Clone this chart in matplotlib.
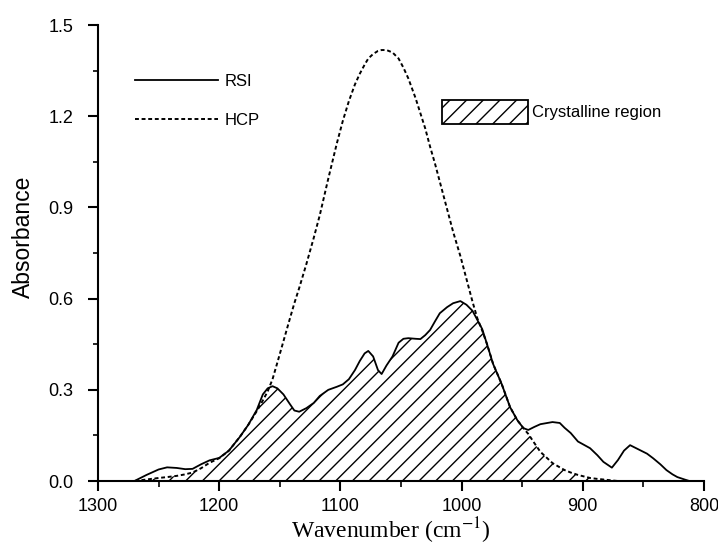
import matplotlib
matplotlib.use("Agg")
import matplotlib.pyplot as plt
from matplotlib.patches import Patch
from matplotlib.lines import Line2D
from matplotlib.ticker import MultipleLocator, FormatStrFormatter
import numpy as np

# values, on one shared wavenumber grid
wavenumber = [1275, 1270, 1260, 1250, 1243, 1235, 1228, 1222, 1215, 1208,
              1200, 1192, 1183, 1176, 1169, 1164, 1160, 1156, 1152, 1147,
              1142, 1138, 1134, 1128, 1122, 1117, 1110, 1103, 1098, 1093,
              1088, 1084, 1080, 1077, 1073, 1069, 1066, 1062, 1057, 1052,
              1048, 1044, 1038, 1034, 1030, 1026, 1022, 1018, 1012, 1007,
              1001, 996, 991, 987, 983, 979, 974, 967, 960, 954,
              949, 945, 940, 935, 925, 919, 915, 910, 904, 894,
              888, 883, 876, 871, 866, 861, 857, 853, 847, 842,
              836, 831, 826, 822, 816, 812]

rsi = [0.0, 0.0, 0.02, 0.038, 0.045, 0.043, 0.039, 0.04, 0.055, 0.068,
       0.076, 0.1, 0.145, 0.185, 0.234, 0.285, 0.305, 0.312, 0.305, 0.285,
       0.255, 0.232, 0.228, 0.24, 0.257, 0.28, 0.30, 0.31, 0.318, 0.335,
       0.365, 0.395, 0.42, 0.428, 0.41, 0.365, 0.352, 0.38, 0.41, 0.455,
       0.468, 0.47, 0.468, 0.467, 0.48, 0.497, 0.525, 0.552, 0.572, 0.585,
       0.592, 0.58, 0.56, 0.53, 0.50, 0.45, 0.385, 0.32, 0.243, 0.20,
       0.174, 0.168, 0.178, 0.187, 0.194, 0.191, 0.175, 0.158, 0.13, 0.108,
       0.085, 0.063, 0.044, 0.069, 0.10, 0.118, 0.11, 0.102, 0.09, 0.075,
       0.055, 0.036, 0.022, 0.013, 0.005, 0.0]

hcp = [0.0, 0.0, 0.005, 0.01, 0.013, 0.017, 0.022, 0.028, 0.042, 0.06,
       0.075, 0.1, 0.145, 0.185, 0.23, 0.265, 0.295, 0.335, 0.39, 0.46,
       0.53, 0.585, 0.635, 0.715, 0.80, 0.875, 0.995, 1.11, 1.185, 1.25,
       1.305, 1.34, 1.37, 1.39, 1.405, 1.415, 1.418, 1.418, 1.41, 1.39,
       1.36, 1.325, 1.26, 1.21, 1.16, 1.10, 1.045, 0.985, 0.895, 0.82,
       0.74, 0.665, 0.59, 0.535, 0.495, 0.45, 0.385, 0.32, 0.243, 0.20,
       0.174, 0.155, 0.125, 0.096, 0.059, 0.045, 0.036, 0.028, 0.02, 0.01,
       0.007, 0.005, 0.002, 0.0, 0.0, 0.0, 0.0, 0.0, 0.0, 0.0,
       0.0, 0.0, 0.0, 0.0, 0.0, 0.0]

plt.rcParams['font.family'] = ['Liberation Sans', 'DejaVu Sans']
plt.rcParams['mathtext.fontset'] = 'stix'
plt.rcParams['hatch.linewidth'] = 1.0

fig = plt.figure(figsize=(7.18, 5.46), dpi=100)
ax = fig.add_axes([0.1365, 0.119, 0.844, 0.835])

# crystalline region = area under the lower of the two curves
crystal = np.minimum(rsi, hcp)
ax.fill_between(wavenumber, 0, crystal, facecolor='none', edgecolor='black',
                hatch='//', linewidth=0)
ax.plot(wavenumber, rsi, color='black', lw=1.3)
ax.plot(wavenumber, hcp, color='black', lw=1.4, linestyle=(0, (2, 1.4)))

ax.set_xlim(1300, 800)
ax.set_ylim(0, 1.5)
ax.xaxis.set_major_locator(MultipleLocator(100))
ax.xaxis.set_minor_locator(MultipleLocator(50))
ax.yaxis.set_major_locator(MultipleLocator(0.3))
ax.yaxis.set_minor_locator(MultipleLocator(0.15))
ax.yaxis.set_major_formatter(FormatStrFormatter('%.1f'))

for side in ['top', 'right']:
    ax.spines[side].set_visible(False)
for side in ['left', 'bottom']:
    ax.spines[side].set_linewidth(1.5)

ax.tick_params(axis='x', which='major', direction='out', length=7, width=1.5,
               labelsize=13, pad=5)
ax.tick_params(axis='x', which='minor', direction='out', length=4, width=1.2)
ax.tick_params(axis='y', which='major', direction='out', length=7, width=1.5,
               labelsize=13, pad=11)
ax.tick_params(axis='y', which='minor', direction='out', length=3.5, width=1.2)

ax.set_xlabel('Wavenumber (cm$^{-1}$)', family='Liberation Serif', fontsize=17)
ax.xaxis.set_label_coords(0.484, -0.075)
ax.set_ylabel('Absorbance', fontsize=16.5)
ax.yaxis.set_label_coords(-0.104, 0.535)

# legends
leg1 = ax.legend(handles=[Line2D([], [], color='black', lw=1.3),
                          Line2D([], [], color='black', lw=1.4, linestyle=(0, (2, 1.4)))],
                 labels=['RSI', 'HCP'], loc='upper left',
                 bbox_to_anchor=(0.061, 0.893), frameon=False, fontsize=12,
                 handlelength=5.0, handletextpad=0.35, labelspacing=1.45,
                 borderpad=0, borderaxespad=0)
ax.add_artist(leg1)
ax.legend(handles=[Patch(facecolor='white', edgecolor='black', hatch='//', lw=1.3)],
          labels=['Crystalline region'], loc='upper left',
          bbox_to_anchor=(0.568, 0.8355), frameon=False, fontsize=12,
          handlelength=5.15, handleheight=1.8, handletextpad=0.25,
          borderpad=0, borderaxespad=0)

plt.savefig('out.png', dpi=100)
